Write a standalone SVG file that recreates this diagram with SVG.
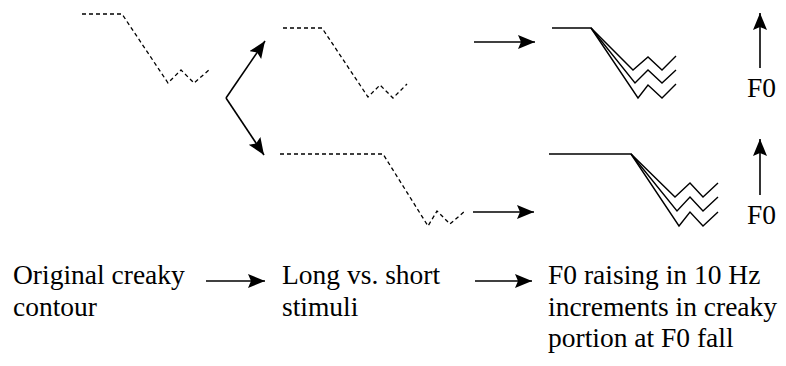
<svg xmlns="http://www.w3.org/2000/svg" width="786" height="366" viewBox="0 0 786 366">
<style>
.dash{fill:none;stroke:#000;stroke-width:1.3;stroke-dasharray:4 3}
.solid{fill:none;stroke:#000;stroke-width:1.4}
.arr{fill:none;stroke:#000;stroke-width:1.6;marker-end:url(#ah)}
.t{font-size:27.5px;fill:#000}
</style>
<defs>
<marker id="ah" markerUnits="userSpaceOnUse" markerWidth="18" markerHeight="15" refX="17" refY="7" orient="auto">
<path d="M0,0 L17,7 L0,14 L3,7 z" fill="#000"/>
</marker>
</defs>
<rect width="786" height="366" fill="#fff"/>
<g id="contour-original">
<polyline class="dash" points="82,14 122,14 168,83 181,70 194,83 209,70"/>
</g>
<g id="contour-short">
<polyline class="dash" points="283,28 322,28 368,97 380,85 393,98 407,84"/>
</g>
<g id="contour-long">
<polyline class="dash" points="280,154 383,154 428,226 437,211 450,224 465,211"/>
</g>
<g id="contour-short-raised">
<polyline class="solid" points="552,28 591,28 633,70 648,57 662,70 676,56"/>
<polyline class="solid" points="591,28 635,83 648,70 662,83 676,70"/>
<polyline class="solid" points="591,28 638,98 648,85 662,98 676,84"/>
</g>
<g id="contour-long-raised">
<polyline class="solid" points="549,154 631,154 675,197 690,183 703,197 718,183"/>
<polyline class="solid" points="631,154 677,211 690,197 703,211 718,197"/>
<polyline class="solid" points="631,154 679,226 690,212 703,226 718,212"/>
</g>
<g font-family="Liberation Serif, Times New Roman, DejaVu Serif, serif">
<g id="f0-top">
<text class="t" x="747" y="97">F0</text>
</g>
<g id="f0-bottom">
<text class="t" x="747" y="224">F0</text>
</g>
<g id="label-original">
<text class="t" x="13" y="284">Original creaky</text>
<text class="t" x="13" y="315.5">contour</text>
</g>
<g id="label-stimuli">
<text class="t" x="282" y="284">Long vs. short</text>
<text class="t" x="282" y="315.5">stimuli</text>
</g>
<g id="label-raising">
<text class="t" x="548" y="284">F0 raising in 10 Hz</text>
<text class="t" x="548" y="315.5">increments in creaky</text>
<text class="t" x="548" y="347">portion at F0 fall</text>
</g>
</g>
<g id="connectors">
<path class="arr" d="M226,98 L265,41"/>
<path class="arr" d="M226,98 L264,155"/>
<path class="arr" d="M474,42 L535,42"/>
<path class="arr" d="M473,212 L534,212"/>
<path class="arr" d="M760,68 L760,13"/>
<path class="arr" d="M760,195 L760,139"/>
<path class="arr" d="M206,281 L265,281"/>
<path class="arr" d="M475,281 L532,281"/>
</g>
</svg>
